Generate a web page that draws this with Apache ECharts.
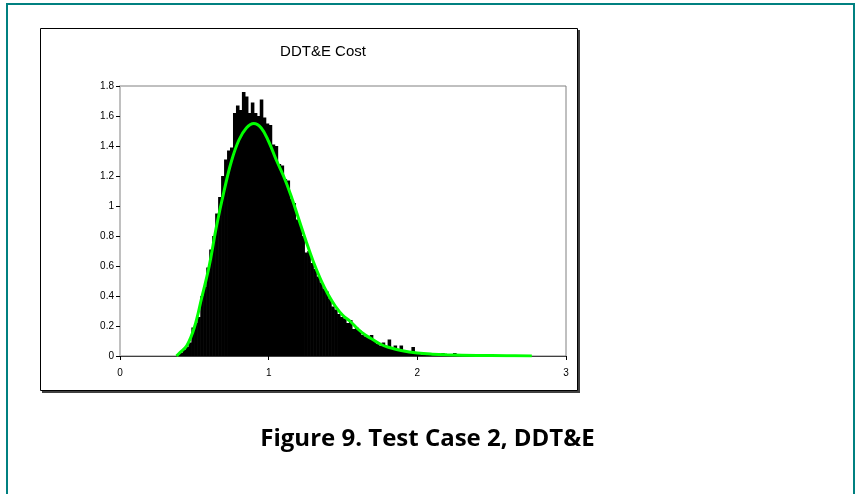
<!DOCTYPE html>
<html>
<head>
<meta charset="utf-8">
<script src="https://cdn.jsdelivr.net/npm/echarts@6/dist/echarts.min.js"></script>
<style>
  html, body { margin: 0; padding: 0; background: #fff; }
  #canvas { width: 855px; height: 494px; }
</style>
</head>
<body>
<div id="canvas"></div>
<script>
// histogram: bins of width 0.02, first bin starts at 0.38
var binStart = 0.38,
    binWidth = 0.02;
var binHeights = [
    0.01, 0.02, 0.04, 0.06, 0.09, 0.19, 0.22, 0.26, 0.40, 0.46,
    0.59, 0.71, 0.80, 0.95, 1.06, 1.20, 1.31, 1.37, 1.39, 1.62,
    1.67, 1.64, 1.76, 1.73, 1.62, 1.69, 1.62, 1.60, 1.71, 1.59,
    1.55, 1.54, 1.41, 1.40, 1.28, 1.27, 1.18, 1.17, 1.05, 1.02,
    0.91, 0.88, 0.80, 0.69, 0.70, 0.62, 0.58, 0.53, 0.49, 0.45,
    0.43, 0.38, 0.33, 0.31, 0.28, 0.26, 0.25, 0.22, 0.24, 0.18,
    0.19, 0.17, 0.14, 0.13, 0.12, 0.14, 0.10, 0.08, 0.07, 0.09,
    0.06, 0.11, 0.05, 0.07, 0.04, 0.07, 0.04, 0.03, 0.02, 0.06,
    0.02, 0.02, 0.01, 0.02, 0.01, 0.02, 0.01, 0.01, 0.00, 0.02,
    0.01, 0.01, 0.01, 0.02, 0.01, 0.00, 0.01, 0.01, 0.00, 0.01,
    0.00, 0.01, 0.00, 0.00, 0.01, 0.00, 0.00
];

// fitted curve (green)
var fitX = [0.38, 0.40, 0.45, 0.50, 0.55, 0.60, 0.65, 0.70, 0.75, 0.80,
            0.85, 0.90, 0.95, 1.00, 1.05, 1.10, 1.15, 1.20, 1.25, 1.30,
            1.35, 1.40, 1.45, 1.50, 1.55, 1.60, 1.65, 1.70, 1.75, 1.80,
            1.90, 2.00, 2.10, 2.20, 2.40, 2.60, 2.77];
var fitY = [0.00, 0.02, 0.07, 0.19, 0.39, 0.60, 0.87, 1.10, 1.30, 1.44,
            1.52, 1.55, 1.52, 1.43, 1.31, 1.20, 1.07, 0.92, 0.77, 0.63,
            0.51, 0.41, 0.33, 0.27, 0.23, 0.18, 0.14, 0.11, 0.08, 0.06,
            0.035, 0.02, 0.012, 0.008, 0.004, 0.002, 0.00];

var chartTitle = 'DDT&E Cost',
    caption = 'Figure 9. Test Case 2, DDT&E';

var histData = binHeights.map(function (h, i) {
    return [binStart + i * binWidth, h];
});
var fitData = fitX.map(function (x, i) {
    return [x, fitY[i]];
});

var myChart = echarts.init(document.getElementById('canvas'), null, { renderer: 'canvas' });

myChart.setOption({
    animation: false,
    backgroundColor: '#fff',
    title: {
        text: chartTitle,
        left: 318,
        top: 39,
        textAlign: 'center',
        textStyle: {
            fontFamily: 'Liberation Sans, Arial, sans-serif',
            fontSize: 15,
            fontWeight: 'normal',
            color: '#000'
        }
    },
    grid: {
        left: 120,
        top: 86,
        right: 289,
        bottom: 138,
        show: true,
        borderColor: '#808080',
        borderWidth: 1,
        backgroundColor: '#fff'
    },
    xAxis: {
        type: 'value',
        min: 0,
        max: 3,
        interval: 1,
        axisLine: { show: true, lineStyle: { color: '#404040', width: 1 } },
        axisTick: { show: true, inside: false, length: 4, lineStyle: { color: '#000' } },
        axisLabel: {
            margin: 12,
            fontFamily: 'Liberation Sans, Arial, sans-serif',
            fontSize: 10,
            color: '#000'
        },
        splitLine: { show: false }
    },
    yAxis: {
        type: 'value',
        min: 0,
        max: 1.8,
        interval: 0.2,
        axisLine: { show: true, lineStyle: { color: '#c0c0c0', width: 2 } },
        axisTick: { show: true, inside: false, length: 4, lineStyle: { color: '#000' } },
        axisLabel: {
            margin: 6,
            fontFamily: 'Liberation Sans, Arial, sans-serif',
            fontSize: 10,
            color: '#000'
        },
        splitLine: { show: false }
    },
    series: [
        {
            name: 'histogram',
            type: 'custom',
            data: histData,
            renderItem: function (params, api) {
                var x0 = api.value(0),
                    h = api.value(1),
                    topLeft = api.coord([x0, h]),
                    bottomRight = api.coord([x0 + binWidth, 0]);
                return {
                    type: 'rect',
                    shape: {
                        x: topLeft[0],
                        y: topLeft[1],
                        width: bottomRight[0] - topLeft[0] + 0.6,
                        height: bottomRight[1] - topLeft[1]
                    },
                    style: { fill: '#000' }
                };
            }
        },
        {
            name: 'fit',
            type: 'line',
            data: fitData,
            smooth: 0.4,
            showSymbol: false,
            lineStyle: { color: '#00ff00', width: 3 },
            z: 3
        }
    ],
    graphic: [
        // chart frame with shadow
        { type: 'rect', shape: { x: 42, y: 30, width: 538, height: 363 }, style: { fill: '#404040' }, z: -10 },
        { type: 'rect', shape: { x: 40.5, y: 28.5, width: 537, height: 362 }, style: { fill: '#fff', stroke: '#000', lineWidth: 1 }, z: -9 },
        // teal page border
        { type: 'line', shape: { x1: 6, y1: 4, x2: 855, y2: 4 }, style: { stroke: '#008080', lineWidth: 2 }, z: 10 },
        { type: 'line', shape: { x1: 7, y1: 3, x2: 7, y2: 494 }, style: { stroke: '#008080', lineWidth: 2 }, z: 10 },
        { type: 'line', shape: { x1: 854, y1: 3, x2: 854, y2: 494 }, style: { stroke: '#008080', lineWidth: 2 }, z: 10 },
        // caption
        {
            type: 'text',
            left: 'center',
            top: 427,
            style: {
                text: caption,
                fontFamily: 'Open Sans, Lato, sans-serif',
                fontWeight: 'bold',
                fontSize: 24,
                fill: '#000'
            },
            z: 10
        }
    ]
});
</script>
</body>
</html>
